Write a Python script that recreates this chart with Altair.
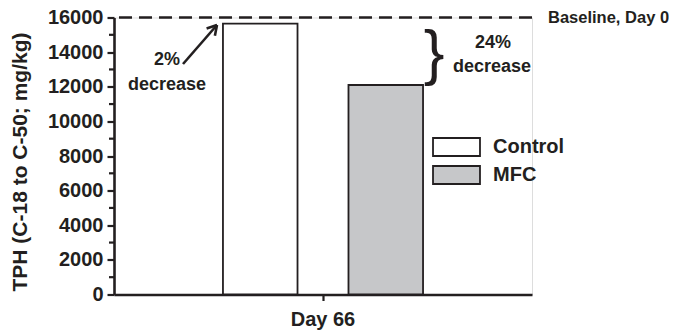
import altair as alt
import pandas as pd

# ---- data ----
groups = ["Control", "MFC"]
values = [15650, 12100]
day_label = ["Day 66", "Day 66"]
bar_colors = ["#ffffff", "#c6c7c9"]
baseline = [16000]
major_ticks = list(range(0, 16001, 2000))
minor_ticks = list(range(1000, 16000, 2000))

FONT = "Liberation Sans"
INK = "#231f20"
W, H = 418, 277

bars_df = pd.DataFrame({"day": day_label, "group": groups, "value": values})
base_df = pd.DataFrame({"v": baseline})
minor_df = pd.DataFrame({"v": minor_ticks})

yscale = alt.Scale(domain=[0, 16000], nice=False, zero=True)

bars = alt.Chart(bars_df).mark_bar(stroke=INK, strokeWidth=1.8).encode(
    x=alt.X("day:N", scale=alt.Scale(paddingInner=0, paddingOuter=0),
            axis=alt.Axis(title=None, labelAngle=0, tickSize=6, tickWidth=2.2,
                          tickColor=INK, domainColor=INK, domainWidth=2.6,
                          labelFont=FONT, labelFontSize=20, labelFontWeight="bold",
                          labelColor=INK, labelPadding=9)),
    xOffset=alt.XOffset("group:N", scale=alt.Scale(domain=groups, paddingInner=0.406, paddingOuter=0.868)),
    y=alt.Y("value:Q", scale=yscale,
            axis=alt.Axis(values=major_ticks, format="d", grid=False, tickSize=7,
                          tickWidth=2.2, tickColor=INK, domainColor=INK, domainWidth=2.6,
                          labelFont=FONT, labelFontSize=20, labelFontWeight="bold",
                          labelColor=INK, labelPadding=4, labelOverlap=False,
                          labelFlush=False, labelBound=False,
                          title="TPH (C-18 to C-50; mg/kg)", titleFont=FONT,
                          titleFontSize=21, titleFontWeight="bold", titleColor=INK,
                          titleAngle=270, titleX=-88, titleY=144,
                          titleBaseline="alphabetic", titleAlign="center")),
    color=alt.Color("group:N", scale=alt.Scale(domain=groups, range=bar_colors),
                    legend=alt.Legend(title=None, orient="none", legendX=332.5, legendY=119.5,
                                      symbolType="M-2.61,-1H2.61V1H-2.61Z", symbolSize=324,
                                      symbolStrokeColor=INK, symbolStrokeWidth=1.8,
                                      symbolOpacity=1,
                                      labelFont=FONT, labelFontSize=20, labelFontWeight="bold",
                                      labelColor=INK, labelOffset=26.5, rowPadding=2, padding=0)),
)

minor = alt.Chart(minor_df).mark_rule(color=INK, strokeWidth=2.2).encode(
    y=alt.Y("v:Q", scale=yscale, axis=None), x=alt.value(-5), x2=alt.value(0)
)

base_rule = alt.Chart(base_df).mark_rule(color=INK, strokeWidth=2.6, strokeDash=[13, 7]).encode(
    y=alt.Y("v:Q", scale=yscale, axis=None)
)

def txt(t, x, y, size=18, align="center", baseline="middle", weight="bold"):
    return alt.Chart(base_df).mark_text(text=t, font=FONT, fontSize=size, fontWeight=weight,
                                        color=INK, align=align, baseline=baseline).encode(
        x=alt.value(x), y=alt.value(y))

base_text = alt.Chart(base_df).mark_text(text="Baseline, Day 0", font=FONT, fontSize=16.5,
                                         fontWeight="bold", color=INK, align="left",
                                         baseline="middle").encode(
    x=alt.value(434), y=alt.Y("v:Q", scale=yscale, axis=None))

t2 = txt("2%", 53, 42.5)
t2b = txt("decrease", 53, 67)
t24 = txt("24%", 379, 25.5)
t24b = txt("decrease", 378, 49.5)
brace = txt("}", 320, 36, size=62, weight="normal")

def seg(x1, y1, x2, y2):
    return alt.Chart(base_df).mark_rule(color=INK, strokeWidth=2.6).encode(
        x=alt.value(x1), y=alt.value(y1), x2=alt.value(x2), y2=alt.value(y2))

arrow = [seg(69, 46.5, 103, 7.5), seg(103, 7.5, 92.6, 11.1), seg(103, 7.5, 100.9, 18.3)]

chart = alt.layer(bars, minor, base_rule, base_text, t2, t2b, t24, t24b, brace, *arrow).resolve_axis(
    y="independent"
).properties(
    width=W, height=H,
    autosize=alt.AutoSizeParams(type="none"),
    padding={"left": 106, "top": 9.5, "right": 137, "bottom": 36},
).configure_view(stroke=None).configure_axis(labelOverlap=False).configure(background="white")

chart.save("out.html", embed_options={"renderer": "svg", "actions": False})
